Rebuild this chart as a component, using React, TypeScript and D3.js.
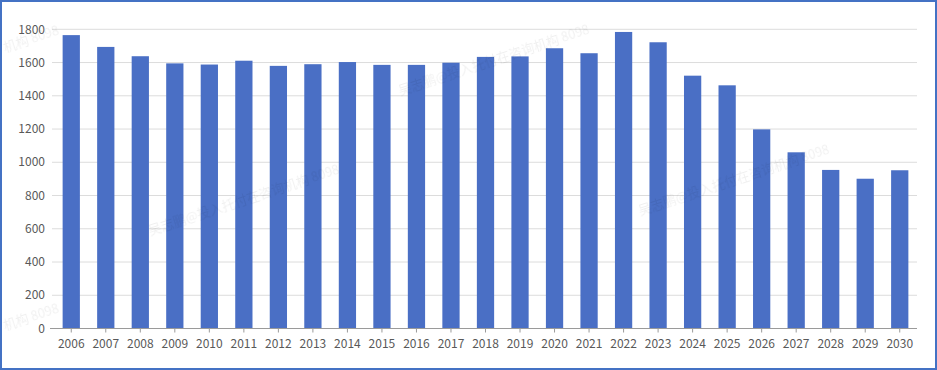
import { useEffect } from 'react';
import * as d3 from 'd3';

const years = [
  '2006', '2007', '2008', '2009', '2010', '2011', '2012', '2013', '2014',
  '2015', '2016', '2017', '2018', '2019', '2020', '2021', '2022', '2023',
  '2024', '2025', '2026', '2027', '2028', '2029', '2030',
];
const values = [
  1765, 1694, 1638, 1595, 1588, 1611, 1580, 1590, 1603,
  1586, 1586, 1599, 1634, 1637, 1686, 1656, 1784, 1722,
  1521, 1463, 1198, 1060, 954, 901, 952,
];
const yTicks = [0, 200, 400, 600, 800, 1000, 1200, 1400, 1600, 1800];

const W = 937;
const H = 370;
const left = 54;
const right = 917;
const top = 29.3;
const bottom = 328.5;
const font = '"Noto Sans CJK SC", "DejaVu Sans", sans-serif';

export default function App() {
  useEffect(() => {
    document.body.style.margin = '0';
  }, []);

  const x = d3.scaleBand<string>().domain(years).range([left, right]).paddingInner(0.5).paddingOuter(0.25);
  const y = d3.scaleLinear().domain([0, 1800]).range([bottom, top]);

  return (
    <svg width={W} height={H} style={{ display: 'block' }}>
      <rect x={0} y={0} width={W} height={H} fill="#ffffff" />
      {yTicks.map((t) => (
        <g key={t}>
          {t > 0 && (
            <line x1={left - 2} x2={right} y1={y(t)} y2={y(t)} stroke="#dcdcdc" strokeWidth={1} />
          )}
          <text
            x={45}
            y={y(t)}
            dy="0.35em"
            textAnchor="end"
            fontSize={12}
            fill="#595959"
            fontFamily={font}
          >
            {t}
          </text>
        </g>
      ))}
      {years.map((yr, i) => (
        <rect
          key={yr}
          x={x(yr)}
          y={y(values[i])}
          width={x.bandwidth()}
          height={bottom - y(values[i])}
          fill="#4a6fc5"
        />
      ))}
      <line x1={left - 4} x2={right} y1={bottom} y2={bottom} stroke="#9a9a9a" strokeWidth={1} />
      {years.map((yr) => {
        const cx = (x(yr) as number) + x.bandwidth() / 2;
        return (
          <g key={yr}>
            <line x1={cx} x2={cx} y1={bottom} y2={bottom + 4} stroke="#9a9a9a" strokeWidth={1} />
            <text
              x={cx}
              y={344}
              dy="0.35em"
              textAnchor="middle"
              fontSize={12}
              fill="#595959"
              fontFamily={font}
            >
              {yr}
            </text>
          </g>
        );
      })}
      <g fontFamily={font} fontSize={13} fill="#000" opacity={0.06}>
        <text transform="translate(5,52) rotate(-18)">机构 8098</text>
        <text transform="translate(400,95) rotate(-18)">吴志鹏@投入托付在咨询机构 8098</text>
        <text transform="translate(150,235) rotate(-18)">吴志鹏@投入托付在咨询机构 8098</text>
        <text transform="translate(640,215) rotate(-18)">吴志鹏@投入托付在咨询机构 8098</text>
        <text transform="translate(5,330) rotate(-18)">机构 8098</text>
      </g>
      <rect x={1} y={1} width={W - 2} height={H - 2} fill="none" stroke="#4472c4" strokeWidth={2} />
    </svg>
  );
}
